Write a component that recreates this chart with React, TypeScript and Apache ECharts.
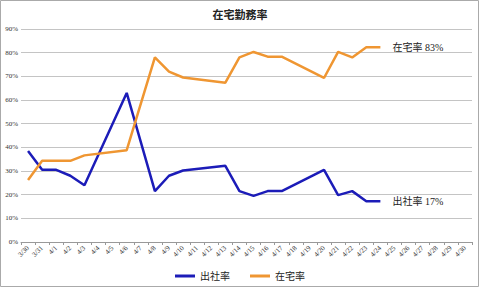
import React, { useEffect, useRef } from "react";
import * as echarts from "echarts";

const categories = [
  "3/30", "3/31", "4/1", "4/2", "4/3", "4/4", "4/5", "4/6", "4/7", "4/8",
  "4/9", "4/10", "4/11", "4/12", "4/13", "4/14", "4/15", "4/16", "4/17", "4/18",
  "4/19", "4/20", "4/21", "4/22", "4/23", "4/24", "4/25", "4/26", "4/27", "4/28",
  "4/29", "4/30",
];

const officeRate = [
  38.5, 30.5, 30.5, 28, 24, null, null, 63, null, 21.5,
  28, 30.2, null, null, 32.2, 21.5, 19.5, 21.5, 21.5, null,
  null, 30.5, 19.8, 21.5, 17.2, 17.2,
];

const homeRate = [
  26.2, 34.3, 34.3, 34.3, 36.6, null, null, 38.8, null, 78,
  72, 69.5, null, null, 67.3, 78, 80.3, 78.3, 78.3, null,
  null, 69.3, 80.3, 78, 82.3, 82.3,
];

const yTicks = [0, 10, 20, 30, 40, 50, 60, 70, 80, 90];

const SERIF = "'Liberation Serif', 'DejaVu Serif', 'Noto Sans CJK JP', serif";

export default function App() {
  const ref = useRef<HTMLDivElement>(null);
  useEffect(() => {
    if (!ref.current) return;
    const chart = echarts.init(ref.current, undefined, { renderer: "svg" });
    chart.setOption({
      animation: false,
      backgroundColor: "#fff",
      textStyle: { fontFamily: SERIF },
      title: {
        text: "在宅勤務率",
        left: "center",
        top: 4,
        textStyle: { fontSize: 11, fontWeight: "bold", color: "#222", fontFamily: SERIF },
      },
      graphic: [
        {
          type: "rect",
          shape: { x: 0.5, y: 0.5, width: 478, height: 286 },
          style: { fill: "none", stroke: "#aaa", lineWidth: 1 },
          silent: true,
        },
      ],
      legend: {
        bottom: 2,
        left: "center",
        itemWidth: 20,
        itemHeight: 3,
        itemGap: 20,
        icon: "rect",
        textStyle: { fontSize: 10, color: "#222", fontFamily: SERIF },
        data: ["出社率", "在宅率"],
      },
      grid: { left: 21, right: 8, top: 29, bottom: 46 },
      xAxis: {
        type: "category",
        data: categories,
        boundaryGap: true,
        axisLine: { lineStyle: { color: "#999" } },
        axisTick: { show: true, length: 3, lineStyle: { color: "#999" } },
        axisLabel: {
          interval: 0,
          rotate: 45,
          fontSize: 7,
          color: "#333",
          margin: 5,
          fontFamily: SERIF,
        },
      },
      yAxis: {
        type: "value",
        min: 0,
        max: 90,
        interval: 10,
        axisLine: { show: false },
        axisTick: { show: false },
        axisLabel: {
          formatter: (v: number) => (yTicks.includes(v) ? `${v}%` : ""),
          fontSize: 7,
          color: "#333",
          margin: 3,
          fontFamily: SERIF,
        },
        splitLine: { lineStyle: { color: "#c4c4c4", width: 1 } },
      },
      series: [
        {
          name: "出社率",
          type: "line",
          data: officeRate,
          connectNulls: true,
          symbol: "none",
          lineStyle: { color: "#1c1cb8", width: 2.5 },
          itemStyle: { color: "#1c1cb8" },
          endLabel: {
            show: true,
            formatter: "出社率 17%",
            color: "#222",
            fontSize: 10,
            fontFamily: SERIF,
            distance: 12,
          },
        },
        {
          name: "在宅率",
          type: "line",
          data: homeRate,
          connectNulls: true,
          symbol: "none",
          lineStyle: { color: "#ef9632", width: 2.5 },
          itemStyle: { color: "#ef9632" },
          endLabel: {
            show: true,
            formatter: "在宅率 83%",
            color: "#222",
            fontSize: 10,
            fontFamily: SERIF,
            distance: 12,
          },
        },
      ],
    });
    return () => chart.dispose();
  }, []);
  return (
    <div
      ref={ref}
      style={{ position: "fixed", left: 0, top: 0, width: 480, height: 288 }}
    />
  );
}
